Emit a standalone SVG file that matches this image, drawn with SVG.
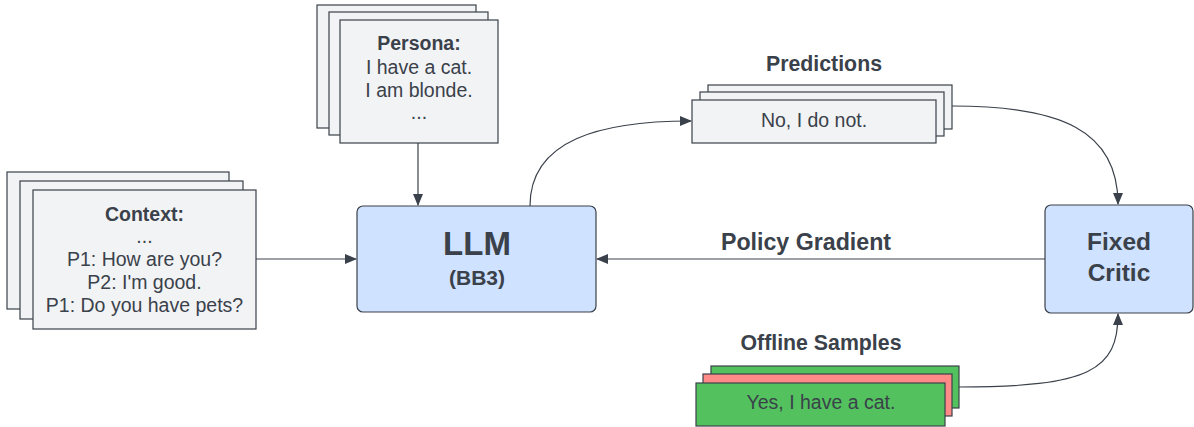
<svg xmlns="http://www.w3.org/2000/svg" width="1194" height="427" viewBox="0 0 1194 427">
<style>
text{font-family:"Liberation Sans",Arial,sans-serif;fill:#3a414a;text-anchor:middle}
.b{font-weight:bold}
.t{font-size:19.5px}
.card{fill:#f2f3f5;stroke:#3a414a;stroke-width:1.2}
.box{fill:#cfe2ff;stroke:#3a414a;stroke-width:1.2}
.green{fill:#53c25e;stroke:#3a414a;stroke-width:1.2}
.pink{fill:#ff8a87;stroke:#3a414a;stroke-width:1.2}
.edge{fill:none;stroke:#3a414a;stroke-width:1.2;marker-end:url(#ah)}
</style>
<defs>
<marker id="ah" markerWidth="12" markerHeight="10" refX="11" refY="5" orient="auto" markerUnits="userSpaceOnUse">
<path d="M0,0 L12,5 L0,10 Z" fill="#3a414a"/>
</marker>
</defs>
<rect width="1194" height="427" fill="#ffffff"/>
<g id="edges">
<path class="edge" d="M256,259 L356,259"/>
<path class="edge" d="M418,143 L418,205"/>
<path class="edge" d="M530,206 C530,140 600,121 691,121"/>
<path class="edge" d="M952,106 C1060,106 1118,130 1118,204"/>
<path class="edge" d="M1045,259 L597,259"/>
<path class="edge" d="M959,387 C1090,387 1118,370 1118,314"/>
</g>
<g id="context">
<rect class="card" x="7" y="172" width="222" height="137"/>
<rect class="card" x="20" y="181" width="223" height="138"/>
<rect class="card" x="33" y="190" width="223" height="139"/>
<text class="b t" x="144.5" y="221">Context:</text>
<text class="t" x="144.5" y="243">...</text>
<text class="t" x="144.5" y="266">P1: How are you?</text>
<text class="t" x="144.5" y="289">P2: I'm good.</text>
<text class="t" x="144.5" y="312">P1: Do you have pets?</text>
</g>
<g id="persona">
<rect class="card" x="317" y="5" width="159" height="123"/>
<rect class="card" x="329" y="12" width="159" height="123"/>
<rect class="card" x="340" y="20" width="158" height="123"/>
<text class="b t" x="419" y="50">Persona:</text>
<text class="t" x="419" y="74">I have a cat.</text>
<text class="t" x="419" y="97">I am blonde.</text>
<text class="t" x="419" y="119">...</text>
</g>
<g id="llm">
<rect class="box" x="357" y="206" width="239" height="106" rx="6"/>
<text class="b" x="477" y="255" font-size="33">LLM</text>
<text class="b" x="477" y="285" font-size="21">(BB3)</text>
</g>
<g id="predictions">
<text class="b" x="824" y="71" font-size="21.3">Predictions</text>
<rect class="card" x="708" y="85" width="244" height="44"/>
<rect class="card" x="700" y="92" width="244" height="44"/>
<rect class="card" x="692" y="100" width="244" height="43"/>
<text class="t" x="814" y="127">No, I do not.</text>
</g>
<g id="critic">
<rect class="box" x="1045" y="205" width="148" height="108" rx="6"/>
<text class="b" x="1119" y="250" font-size="24.5">Fixed</text>
<text class="b" x="1119" y="281" font-size="24.5">Critic</text>
</g>
<g id="policy-gradient-label">
<text class="b" x="806" y="250" font-size="23.2">Policy Gradient</text>
</g>
<g id="offline">
<text class="b" x="821" y="350" font-size="21.3">Offline Samples</text>
<rect class="green" x="711" y="366" width="248" height="42"/>
<rect class="pink" x="703" y="374" width="249" height="42"/>
<rect class="green" x="696" y="383" width="249" height="43"/>
<text class="t" x="821" y="409">Yes, I have a cat.</text>
</g>
</svg>
